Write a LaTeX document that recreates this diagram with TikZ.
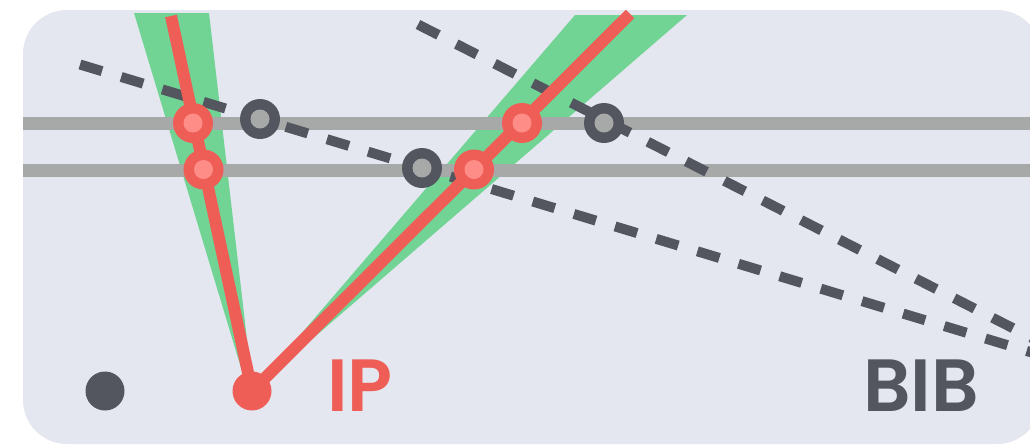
\documentclass[tikz,border=0pt]{standalone}
\usepackage{fontspec}
\newfontfamily\labelfont{Poppins}[BoldFont={Poppins SemiBold}]
\definecolor{panel}{HTML}{E4E7F0}
\definecolor{rail}{HTML}{A7A9A8}
\definecolor{cone}{HTML}{71D495}
\definecolor{track}{HTML}{EE5E57}
\definecolor{hit}{HTML}{FF8D87}
\definecolor{ink}{HTML}{53565F}
\begin{document}
\begin{tikzpicture}[x=1pt,y=-1pt,
  railline/.style={rail,line width=13pt},
  conefill/.style={fill=cone},
  trackline/.style={track,line width=12pt},
  ghostline/.style={ink,line width=10pt,dash pattern=on 23pt off 20pt},
  hitmark/.style={circle,fill=track,minimum size=40pt,inner sep=0pt,
    path picture={\fill[hit] (path picture bounding box.center) circle (9.5pt);}},
  ghostmark/.style={circle,fill=ink,minimum size=40pt,inner sep=0pt,
    path picture={\fill[rail] (path picture bounding box.center) circle (9.5pt);}},
  dotmark/.style={circle,minimum size=39pt,inner sep=0pt},
  labeltext/.style={font=\labelfont\bfseries\fontsize{74}{74}\selectfont,inner sep=0pt,anchor=base west}]
\useasboundingbox (0,0) rectangle (1030,445);
\clip (0,0) rectangle (1030,445);
\fill[panel,rounded corners=44pt] (23,10) rectangle (1041,444);

% key points
\coordinate (ip) at (252,391);
\coordinate (topL) at (171,16);
\coordinate (topR) at (630,14);
\coordinate (g1s) at (80,64.5);
\coordinate (g1e) at (1040,355);
\coordinate (g2s) at (418,24.5);
\coordinate (g2e) at (1040,342);
\coordinate (railAs) at (23,123.5);
\coordinate (railAe) at (1030,123.5);
\coordinate (railBs) at (23,170);
\coordinate (railBe) at (1030,170);

% uncertainty cones of the two tracks
\fill[conefill] (134,13) -- (209,13) -- (253,391) -- (248,391) -- cycle;
\fill[conefill] (575,15) -- (687,15) -- (ip) -- cycle;

% detector layers
\draw[railline] (railAs) -- (railAe);
\draw[railline] (railBs) -- (railBe);

% ghost track candidates
\draw[ghostline] (g1s) -- (g1e);
\draw[ghostline] (g2s) -- (g2e);

% reconstructed tracks
\draw[trackline] (topL) -- (ip);
\draw[trackline] (topR) -- (ip);

% hits on the layers
\node[hitmark] (h1) at (193,123) {};
\node[hitmark] (h2) at (203.5,169.5) {};
\node[hitmark] (h3) at (522,123) {};
\node[hitmark] (h4) at (474,169.5) {};
\node[ghostmark] (f1) at (260,119) {};
\node[ghostmark] (f2) at (422,168) {};
\node[ghostmark] (f3) at (604,123) {};

% vertices
\node[dotmark,fill=ink] (bib) at (105,391) {};
\node[dotmark,fill=track] (ipdot) at (ip) {};

% labels
\node[labeltext,text=track] (iplabel) at (327,411) {IP};
\node[labeltext,text=ink] (biblabel) at (863,411) {BIB};
\end{tikzpicture}
\end{document}
